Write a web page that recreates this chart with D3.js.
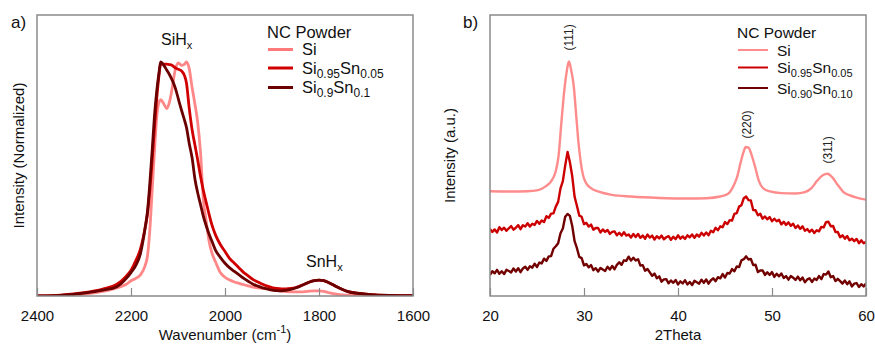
<!DOCTYPE html>
<html>
<head>
<meta charset="utf-8">
<script src="https://cdn.jsdelivr.net/npm/d3@7/dist/d3.min.js"></script>
<style>
  html, body { margin: 0; padding: 0; background: #fff; }
  svg { display: block; font-family: Arial, "Liberation Sans", sans-serif; }
</style>
</head>
<body>
<svg id="chart" width="875" height="344"></svg>
<script>
// ---------------- Panel a) FTIR data ----------------
const irWavenumbers = [2400,2350,2300,2260,2230,2210,2200,2190,2180,2170,2165,2160,2155,2150,2145,2140,2137,2130,2124,2118,2113,2106,2099,2092,2086,2082,2076,2070,2064,2058,2052,2046,2040,2034,2028,2020,2010,2000,1990,1980,1970,1960,1950,1940,1930,1920,1910,1900,1890,1880,1870,1860,1850,1840,1830,1820,1810,1800,1790,1780,1770,1760,1750,1740,1720,1700,1680,1650,1600];
const irSi = [0,0.002,0.008,0.02,0.035,0.05,0.065,0.075,0.09,0.13,0.17,0.28,0.45,0.62,0.77,0.83,0.838,0.82,0.80,0.83,0.88,0.965,0.995,0.985,0.99,1.0,0.97,0.89,0.82,0.74,0.61,0.41,0.32,0.235,0.185,0.145,0.10,0.08,0.068,0.06,0.054,0.048,0.043,0.038,0.035,0.033,0.03,0.027,0.024,0.021,0.019,0.018,0.018,0.018,0.019,0.021,0.022,0.022,0.02,0.015,0.01,0.007,0.005,0.004,0.003,0.002,0.001,0.001,0.001];
const irSi095Sn005 = [0,0.004,0.014,0.03,0.05,0.085,0.11,0.15,0.2,0.29,0.35,0.45,0.58,0.72,0.85,0.95,0.99,0.99,0.99,0.988,0.985,0.975,0.968,0.96,0.94,0.91,0.80,0.71,0.645,0.58,0.51,0.45,0.40,0.35,0.305,0.26,0.22,0.19,0.16,0.14,0.12,0.10,0.085,0.07,0.06,0.05,0.042,0.036,0.032,0.03,0.03,0.032,0.036,0.043,0.051,0.06,0.066,0.068,0.066,0.058,0.048,0.037,0.028,0.02,0.012,0.008,0.005,0.003,0.002];
const irSi09Sn01 = [0,0.003,0.012,0.025,0.04,0.075,0.10,0.13,0.18,0.29,0.36,0.48,0.62,0.77,0.88,0.96,1.0,0.985,0.965,0.945,0.925,0.89,0.84,0.79,0.75,0.72,0.65,0.59,0.50,0.44,0.39,0.34,0.30,0.265,0.235,0.195,0.165,0.14,0.12,0.105,0.09,0.075,0.062,0.05,0.042,0.035,0.03,0.025,0.023,0.022,0.024,0.028,0.034,0.042,0.051,0.06,0.066,0.068,0.066,0.058,0.048,0.037,0.028,0.02,0.012,0.008,0.005,0.003,0.002];
const irTicks = [2400,2200,2000,1800,1600];

// ---------------- Panel b) XRD data ----------------
const xrdSiTheta = [20,22,24,25,26,26.5,27,27.3,27.6,27.9,28.1,28.3,28.4,28.6,28.9,29.2,29.4,29.6,29.9,30.2,30.7,31.5,33,35,38,41,43,44.5,45.3,45.8,46.3,46.7,47,47.2,47.5,47.8,48.2,48.6,49.1,49.8,51,52.5,53.5,54.2,54.8,55.4,55.9,56.4,57,57.6,58.3,59,60];
const xrdSiValues = [37.3,37.2,37.3,37.6,39.2,40.8,44.5,50,62,73,78.5,82.5,83.5,81,75,63,55,49,43,40.3,38.5,37.2,36,35.4,34.9,34.7,34.8,35.4,36.3,38.5,42.5,48,51.5,53,52.8,50.5,46,41,38.2,37.2,36.6,36.5,37,38.4,41,43,43.5,42.3,39.5,37,35.8,35,34.3];
// Noisy scans sampled every 0.25 degree from 20 to 60
const xrdScanStart = 20, xrdScanStep = 0.25;
const xrdSi095Values = [23.8,22.8,23.7,22.6,24.5,23.5,24.3,23.2,24.1,24.9,23.6,24.3,25.2,23.8,25.2,24.7,25.9,24.7,25.7,25.3,
  26.7,25.7,26.9,26.3,28.4,27.8,29.3,29.4,31.8,33.5,38.3,40.9,46.4,51.3,47.6,42.6,35.3,32.0,28.6,28.2,
  25.6,26.0,24.7,25.4,23.6,24.2,24.2,22.6,23.7,22.8,23.5,22.1,22.8,23.0,21.6,22.5,21.5,22.7,21.5,21.9,
  20.8,22.1,21.0,22.1,20.7,21.5,20.4,21.9,20.8,21.5,20.1,21.3,20.5,21.5,20.2,20.9,21.3,20.0,21.1,20.2,
  21.6,20.4,21.2,20.3,21.6,20.9,21.9,20.7,21.9,21.1,22.5,21.5,22.6,21.6,23.2,22.7,24.3,23.4,24.8,24.5,
  26.3,25.6,27.0,26.8,29.2,29.5,31.8,32.3,34.8,35.4,34.1,34.0,30.6,30.5,28.7,29.3,27.5,28.3,27.3,28.1,
  26.6,27.5,26.6,27.1,25.5,26.4,25.3,26.2,25.0,25.7,24.2,25.1,23.9,24.8,23.2,23.8,22.8,23.6,22.4,23.4,
  23.0,24.6,24.4,26.3,26.4,24.8,24.9,22.8,22.8,20.9,21.6,20.4,21.3,19.8,20.4,19.5,20.3,18.8,19.8,18.8,19.3];
const xrdSi090Values = [7.5,8.8,8.1,9.3,7.9,8.8,7.8,9.3,8.9,8.4,9.8,8.7,9.9,8.5,9.8,10.4,9.3,10.6,10.1,11.5,
  10.3,11.9,11.6,13.3,12.5,14.1,14.2,16.8,17.7,18.8,22.3,24.0,28.2,29.2,28.5,24.9,19.5,17.0,13.9,13.5,
  10.9,11.4,10.2,11.0,9.2,9.9,8.7,10.0,9.4,8.9,10.4,9.4,10.7,9.5,11.1,12.0,11.1,12.7,12.5,14.0,
  12.6,13.6,12.6,13.1,10.8,11.0,9.0,9.6,8.4,7.2,8.0,6.3,7.0,5.1,5.9,6.0,4.5,5.5,4.7,5.7,
  4.1,5.2,4.5,5.6,4.1,5.0,3.9,5.4,4.9,4.4,5.8,4.7,5.9,4.4,5.6,6.3,5.3,6.7,6.3,7.8,
  6.6,8.2,8.0,9.6,8.8,10.5,10.3,12.7,13.1,14.1,13.0,13.2,11.0,11.1,8.5,9.1,9.1,7.5,8.4,7.5,
  8.5,6.8,7.9,7.0,8.0,6.4,7.1,5.8,7.1,6.5,5.7,6.9,5.6,6.6,4.9,5.9,6.3,5.0,6.2,5.7,
  7.1,6.0,7.8,7.6,8.7,6.7,7.1,5.3,6.1,5.3,4.4,5.5,4.2,5.2,3.4,4.4,4.6,3.2,4.2,3.4,4.4];
const xrdTicks = [20,30,40,50,60];
const xrdPeakLabels = ["(111)","(220)","(311)"];
const xrdPeakTheta = [28.4,47.3,56.0];
const xrdPeakLabelValue = [92,61,52];

// legend labels: [base, sub, base, sub]
const irLegend = [["Si"],["Si","0.95","Sn","0.05"],["Si","0.9","Sn","0.1"]];
const xrdLegend = [["Si"],["Si","0.95","Sn","0.05"],["Si","0.90","Sn","0.10"]];

// ---------------- Drawing ----------------
const svg = d3.select("#chart");
const irColors = ["#ff7a7a","#d10000","#6b0000"];
const xrdColors = ["#ff8c8c","#cc0000","#720000"];
const frameColor = "#8a8a8a";

function richText(g, parts, x, y, size, subSize) {
  const t = g.append("text").attr("x", x).attr("y", y).attr("font-size", size).attr("fill", "#111");
  parts.forEach((p, i) => {
    const span = t.append("tspan").text(p);
    if (i % 2 === 1) {
      span.attr("font-size", subSize).attr("dy", 4);
    } else if (i > 0) {
      span.attr("dy", -4);
    }
  });
  return t;
}

// ---- Panel a
const A = {left: 37, right: 413, top: 15, bottom: 296};
const xA = d3.scaleLinear().domain([2400,1600]).range([A.left, A.right]);
const yA = d3.scaleLinear().domain([0,1.2]).range([A.bottom, A.top]);

const gA = svg.append("g");
gA.append("clipPath").attr("id","clipA").append("rect")
  .attr("x",A.left).attr("y",A.top).attr("width",A.right-A.left).attr("height",A.bottom-A.top);

const irSeries = [irSi, irSi095Sn005, irSi09Sn01];
const lineA = d3.line().curve(d3.curveMonotoneX);
irSeries.forEach((vals, i) => {
  const pts = irWavenumbers.map((w, k) => [xA(w), yA(vals[k])]);
  gA.append("path").attr("clip-path","url(#clipA)")
    .attr("d", lineA(pts)).attr("fill","none")
    .attr("stroke", irColors[i]).attr("stroke-width", 2.8)
    .attr("stroke-linejoin","round").attr("opacity", i === 0 ? 0.9 : 1);
});

const axA = d3.axisBottom(xA).tickValues(irTicks).tickSize(-8).tickPadding(14).tickFormat(d3.format("d"));
const axAg = gA.append("g").attr("transform", `translate(0,${A.bottom})`).call(axA);
axAg.select(".domain").remove();
axAg.selectAll(".tick line").attr("stroke", frameColor).attr("stroke-width", 1.2);
axAg.selectAll(".tick text").attr("font-size", 15).attr("fill", "#111").attr("font-family","Arial, 'Liberation Sans', sans-serif");

gA.append("rect").attr("x",A.left).attr("y",A.top).attr("width",A.right-A.left).attr("height",A.bottom-A.top)
  .attr("fill","none").attr("stroke",frameColor).attr("stroke-width",1.5);

const xt = gA.append("text").attr("x", (A.left+A.right)/2).attr("y", 340).attr("text-anchor","middle").attr("font-size",15).attr("fill","#111");
xt.append("tspan").text("Wavenumber (cm");
xt.append("tspan").text("-1").attr("font-size",11).attr("dy",-7);
xt.append("tspan").text(")").attr("dy",7);

gA.append("text").attr("transform",`translate(24,${(A.top+A.bottom)/2}) rotate(-90)`)
  .attr("text-anchor","middle").attr("font-size",15).attr("fill","#111").text("Intensity (Normalized)");

gA.append("text").attr("x",11).attr("y",28).attr("font-size",17).attr("fill","#111").text("a)");

richText(gA, ["SiH","x"], 161, 45, 16, 11);
richText(gA, ["SnH","x"], 306, 267, 16, 11);

gA.append("text").attr("x",267).attr("y",37.5).attr("font-size",16.5).attr("fill","#111").text("NC Powder");
const legYA = [49.5, 68, 87.5];
irLegend.forEach((parts, i) => {
  gA.append("line").attr("x1",268).attr("x2",293).attr("y1",legYA[i]).attr("y2",legYA[i])
    .attr("stroke", irColors[i]).attr("stroke-width",3);
  richText(gA, parts, 302, legYA[i]+5.5, 16.5, 12);
});

// ---- Panel b
const B = {left: 490, right: 866, top: 15, bottom: 296};
const xB = d3.scaleLinear().domain([20,60]).range([B.left, B.right]);
const yB = d3.scaleLinear().domain([0,100]).range([B.bottom, B.top]);
const gB = svg.append("g");
gB.append("clipPath").attr("id","clipB").append("rect")
  .attr("x",B.left).attr("y",B.top).attr("width",B.right-B.left).attr("height",B.bottom-B.top);

const scanTheta = vals => vals.map((v, k) => xrdScanStart + k * xrdScanStep);
const xrdSeries = [
  [xrdSiTheta, xrdSiValues, d3.curveMonotoneX, 2.4],
  [scanTheta(xrdSi095Values), xrdSi095Values, d3.curveLinear, 2.4],
  [scanTheta(xrdSi090Values), xrdSi090Values, d3.curveLinear, 2.4]
];
xrdSeries.forEach(([th, vals, curve, sw], i) => {
  const pts = th.map((t, k) => [xB(t), yB(vals[k])]);
  gB.append("path").attr("clip-path","url(#clipB)")
    .attr("d", d3.line().curve(curve)(pts)).attr("fill","none")
    .attr("stroke", xrdColors[i]).attr("stroke-width", sw)
    .attr("stroke-linejoin","round");
});

const axB = d3.axisBottom(xB).tickValues(xrdTicks).tickSize(-8).tickPadding(14).tickFormat(d3.format("d"));
const axBg = gB.append("g").attr("transform", `translate(0,${B.bottom})`).call(axB);
axBg.select(".domain").remove();
axBg.selectAll(".tick line").attr("stroke", frameColor).attr("stroke-width", 1.2);
axBg.selectAll(".tick text").attr("font-size", 15).attr("fill", "#111").attr("font-family","Arial, 'Liberation Sans', sans-serif");

gB.append("rect").attr("x",B.left).attr("y",B.top).attr("width",B.right-B.left).attr("height",B.bottom-B.top)
  .attr("fill","none").attr("stroke",frameColor).attr("stroke-width",1.5);

gB.append("text").attr("x",(B.left+B.right)/2).attr("y",340).attr("text-anchor","middle").attr("font-size",15).attr("fill","#111").text("2Theta");
gB.append("text").attr("transform",`translate(455,${(B.top+B.bottom)/2}) rotate(-90)`)
  .attr("text-anchor","middle").attr("font-size",15).attr("fill","#111").text("Intensity (a.u.)");
gB.append("text").attr("x",463).attr("y",28).attr("font-size",17).attr("fill","#111").text("b)");

xrdPeakLabels.forEach((lab, i) => {
  gB.append("text")
    .attr("transform", `translate(${xB(xrdPeakTheta[i])+4},${yB(xrdPeakLabelValue[i])}) rotate(-90)`)
    .attr("text-anchor","middle").attr("font-size",12).attr("fill","#222").text(lab);
});

gB.append("text").attr("x",737).attr("y",38).attr("font-size",15.5).attr("fill","#111").text("NC Powder");
const legYB = [50, 67.5, 88];
xrdLegend.forEach((parts, i) => {
  gB.append("line").attr("x1",738).attr("x2",768).attr("y1",legYB[i]).attr("y2",legYB[i])
    .attr("stroke", xrdColors[i]).attr("stroke-width",2);
  richText(gB, parts, 777, legYB[i]+5.5, 15.5, 11);
});
</script>
</body>
</html>
